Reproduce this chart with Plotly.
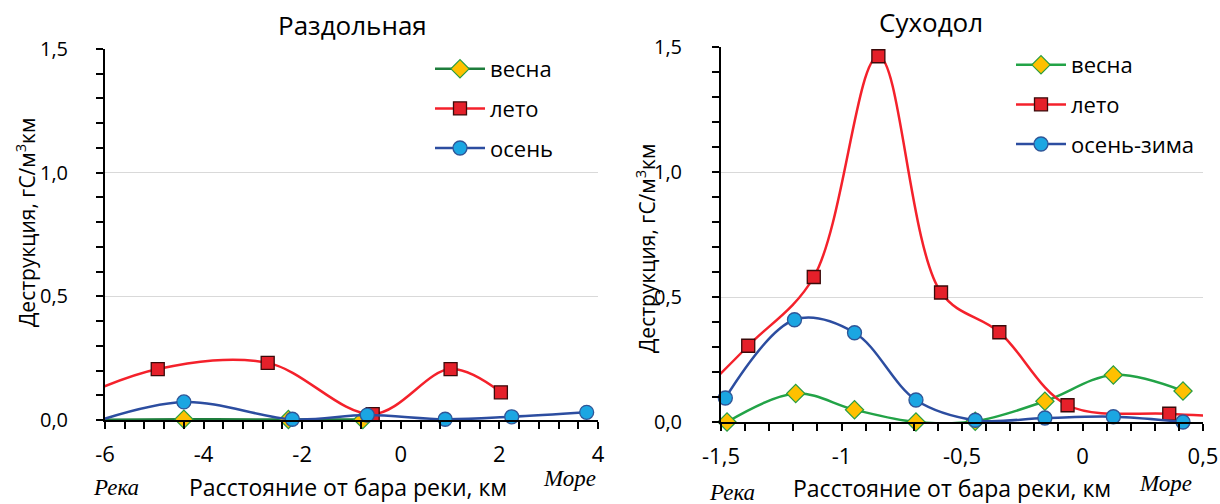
import plotly.graph_objects as go

# ---- Раздольная ----
rz_spring_x = [-6.6, -4.40, -2.28, -0.77]
rz_spring_y = [0.0, 0.003, 0.002, 0.002]
rz_summer_x = [-7.0, -4.93, -2.70, -0.57, 1.01, 2.03]
rz_summer_y = [0.05, 0.206, 0.231, 0.024, 0.206, 0.112]
rz_autumn_x = [-6.4, -4.40, -2.20, -0.68, 0.90, 2.25, 3.77]
rz_autumn_y = [-0.02, 0.073, 0.003, 0.020, 0.003, 0.013, 0.031]

# ---- Суходол ----
sh_spring_x = [-1.475, -1.19, -0.946, -0.691, -0.445, -0.156, 0.128, 0.417]
sh_spring_y = [0.0, 0.114, 0.049, 0.0, 0.003, 0.083, 0.188, 0.124]
sh_summer_x = [-1.62, -1.387, -1.115, -0.847, -0.587, -0.345, -0.062, 0.36, 0.65]
sh_summer_y = [0.08, 0.305, 0.580, 1.463, 0.518, 0.359, 0.067, 0.033, 0.02]
sh_autumn_x = [-1.482, -1.195, -0.946, -0.691, -0.445, -0.156, 0.128, 0.417]
sh_autumn_y = [0.096, 0.409, 0.357, 0.088, 0.007, 0.016, 0.021, 0.0]

titles = ["Раздольная", "Суходол"]
names_left = ["весна", "лето", "осень"]
names_right = ["весна", "лето", "осень-зима"]
y_ticks = [0, 0.5, 1.0, 1.5]
y_ticktext = ["0,0", "0,5", "1,0", "1,5"]
xl_ticks = [-6, -4, -2, 0, 2, 4]
xl_ticktext = ["-6", "-4", "-2", "0", "2", "4"]
xr_ticks = [-1.5, -1, -0.5, 0, 0.5]
xr_ticktext = ["-1,5", "-1", "-0,5", "0", "0,5"]
y_title = "Деструкция, гС/м<sup>3</sup>км"
x_title = "Расстояние от бара реки, км"
river_label = "Река"
sea_label = "Море"

X_RANGE_L = [-6, 4]
X_RANGE_R = [-1.5, 0.5]

FONT = "Open Sans"
W, H = 1220, 504

GREEN_DARK = "#1E7D3C"
GREEN = "#22A347"
RED_LINE = "#F4212B"
RED_FILL = "#E5202A"
BLUE_LINE = "#2C4DA0"
BLUE_FILL = "#1BA6E2"

styles = {
    "spring": dict(symbol="diamond", size=14, color="#FFC000", line=dict(color="#2A9D3F", width=1.2)),
    "summer": dict(symbol="square", size=13, color=RED_FILL, line=dict(color="#3A0A0A", width=1.3)),
    "autumn": dict(symbol="circle", size=14, color=BLUE_FILL, line=dict(color="#2F5597", width=1.3)),
}

fig = go.Figure()


def add_series(xs, ys, name, key, line_color, xref, yref, xr, legend):
    # smooth line through all points (points beyond the axis range are clipped)
    fig.add_trace(go.Scatter(
        x=xs, y=ys, mode="lines", line=dict(color=line_color, width=2.5, shape="spline", smoothing=1.0),
        xaxis=xref, yaxis=yref, showlegend=False, hoverinfo="skip"))
    # markers for points inside the visible range
    mx = [x for x in xs if xr[0] <= x <= xr[1]]
    my = [y for x, y in zip(xs, ys) if xr[0] <= x <= xr[1]]
    fig.add_trace(go.Scatter(
        x=mx, y=my, mode="markers", marker=styles[key], cliponaxis=False,
        xaxis=xref, yaxis=yref, showlegend=False))
    # legend entry
    fig.add_trace(go.Scatter(
        x=[None], y=[None], mode="lines+markers", name=name,
        line=dict(color=line_color, width=2.5), marker=styles[key],
        xaxis=xref, yaxis=yref, legend=legend, legendgroup=legend + key))


add_series(rz_spring_x, rz_spring_y, names_left[0], "spring", GREEN_DARK, "x", "y", X_RANGE_L, "legend")
add_series(rz_summer_x, rz_summer_y, names_left[1], "summer", RED_LINE, "x", "y", X_RANGE_L, "legend")
add_series(rz_autumn_x, rz_autumn_y, names_left[2], "autumn", BLUE_LINE, "x", "y", X_RANGE_L, "legend")
add_series(sh_spring_x, sh_spring_y, names_right[0], "spring", GREEN, "x2", "y2", X_RANGE_R, "legend2")
add_series(sh_summer_x, sh_summer_y, names_right[1], "summer", RED_LINE, "x2", "y2", X_RANGE_R, "legend2")
add_series(sh_autumn_x, sh_autumn_y, names_right[2], "autumn", BLUE_LINE, "x2", "y2", X_RANGE_R, "legend2")


def px_x(v):
    return v / W


def px_y(v):
    return 1 - v / H


tick_font_x = dict(family=FONT, size=22, color="#000000")
tick_font_y = dict(family=FONT, size=20, color="#000000")
minor_ticks = dict(ticks="outside", ticklen=7, tickwidth=2, tickcolor="#000000", showgrid=False)
common_axis = dict(
    showline=True, linecolor="#000000", linewidth=2, ticks="outside", ticklen=7, tickwidth=2,
    tickcolor="#000000", zeroline=False, mirror=False, layer="above traces", automargin=False,
)

layout_axes = dict(
    xaxis=dict(domain=[px_x(105), px_x(598)], range=X_RANGE_L, tickvals=xl_ticks, ticktext=xl_ticktext,
               minor=dict(tick0=-6, dtick=0.4, **minor_ticks), tickfont=tick_font_x,
               showgrid=False, anchor="y", ticklabelstandoff=7, **common_axis),
    yaxis=dict(domain=[px_y(420), px_y(49)], range=[0, 1.5], tickvals=y_ticks, ticktext=y_ticktext,
               minor=dict(tick0=0, dtick=0.1, **minor_ticks), tickfont=tick_font_y,
               showgrid=True, gridcolor="#D9D9D9", gridwidth=1, anchor="x", ticklabelstandoff=24, **common_axis),
    xaxis2=dict(domain=[px_x(721), px_x(1203)], range=X_RANGE_R, tickvals=xr_ticks, ticktext=xr_ticktext,
                minor=dict(tick0=-1.5, dtick=0.1, **minor_ticks), tickfont=tick_font_x,
                showgrid=False, anchor="y2", ticklabelstandoff=7, **common_axis),
    yaxis2=dict(domain=[px_y(422), px_y(47)], range=[0, 1.5], tickvals=y_ticks, ticktext=y_ticktext,
                minor=dict(tick0=0, dtick=0.1, **minor_ticks), tickfont=tick_font_y,
                showgrid=True, gridcolor="#D9D9D9", gridwidth=1, anchor="x2", ticklabelstandoff=26, **common_axis),
)

legend_common = dict(
    font=dict(family=FONT, size=22, color="#000000"), bgcolor="rgba(0,0,0,0)", borderwidth=0,
    tracegroupgap=8, itemwidth=50, xanchor="left", yanchor="top", traceorder="grouped",
)

annotations = []
for text, cx, cy in [(titles[0], 352, 25), (titles[1], 931, 22)]:
    annotations.append(dict(text=text, x=px_x(cx), y=px_y(cy), xref="paper", yref="paper",
                            showarrow=False, xanchor="center", yanchor="middle",
                            font=dict(family=FONT, size=26, color="#000000")))
for cx, cy in [(25, 223), (645, 249)]:
    annotations.append(dict(text=y_title, x=px_x(cx), y=px_y(cy), xref="paper", yref="paper",
                            showarrow=False, xanchor="center", yanchor="middle", textangle=-90,
                            font=dict(family=FONT, size=21, color="#000000")))
for cx, cy in [(348, 487), (952, 488)]:
    annotations.append(dict(text=x_title, x=px_x(cx), y=px_y(cy), xref="paper", yref="paper",
                            showarrow=False, xanchor="center", yanchor="middle",
                            font=dict(family=FONT, size=23, color="#000000")))
for text, cx, cy in [(river_label, 116, 487), (sea_label, 569, 478),
                     (river_label, 732, 492), (sea_label, 1165, 483)]:
    annotations.append(dict(text="<i>" + text + "</i>", x=px_x(cx), y=px_y(cy), xref="paper", yref="paper",
                            showarrow=False, xanchor="center", yanchor="middle",
                            font=dict(family="Liberation Serif", size=23, color="#000000")))

fig.update_layout(
    width=W, height=H, margin=dict(l=0, r=0, t=0, b=0, autoexpand=False),
    paper_bgcolor="#FFFFFF", plot_bgcolor="#FFFFFF",
    font=dict(family=FONT, color="#000000"),
    legend=dict(x=px_x(430), y=px_y(48), **legend_common),
    legend2=dict(x=px_x(1011), y=px_y(44), **legend_common),
    annotations=annotations,
    **layout_axes,
)

fig.write_html("out.html")
